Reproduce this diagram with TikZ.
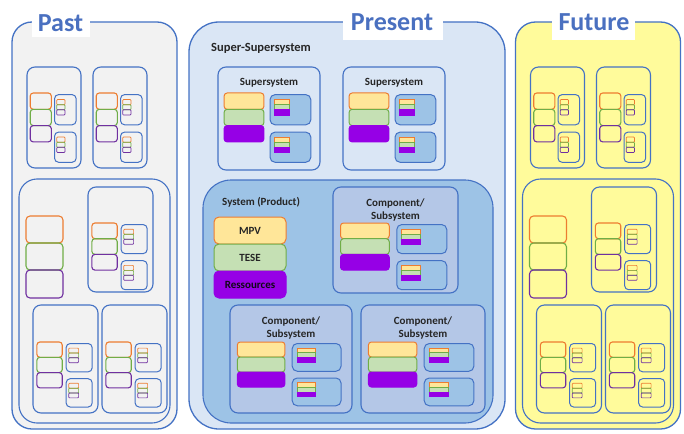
\documentclass[tikz,border=0pt]{standalone}
\usepackage{fontspec}
\setmainfont{Carlito}
\definecolor{pblue}{HTML}{4472C4}
\definecolor{ctitle}{HTML}{4A70C0}
\definecolor{ctext}{HTML}{262626}
\definecolor{cor}{HTML}{ED7D31}
\definecolor{cgr}{HTML}{70AD47}
\definecolor{cpu}{HTML}{7030A0}
\definecolor{cpuf}{HTML}{9600E6}
\definecolor{cyel}{HTML}{FFE699}
\definecolor{cgrl}{HTML}{C5E0B4}
\definecolor{cpast}{HTML}{F2F2F2}
\definecolor{cfut}{HTML}{FFFB9B}
\definecolor{cpres}{HTML}{DAE6F5}
\definecolor{csys}{HTML}{9DC3E6}
\definecolor{ccomp}{HTML}{B4C7E7}
\definecolor{csmall}{HTML}{9DC3E6}

\newcommand{\mytinyst}[5]{%
  \pgfmathsetmacro{\myTya}{#2}%
  \pgfmathsetmacro{\myTyb}{#2+#4/3}%
  \pgfmathsetmacro{\myTyc}{#2+2*#4/3}%
  \pgfmathsetmacro{\myTyd}{#2+#4}%
  \pgfmathsetmacro{\myTxb}{#1+#3}%
  \draw[#5tA] (#1,\myTya) rectangle (\myTxb,\myTyb);
  \draw[#5tB] (#1,\myTyb) rectangle (\myTxb,\myTyc);
  \draw[#5tC] (#1,\myTyc) rectangle (\myTxb,\myTyd);
}

\newcommand{\mycell}[8]{%
  \draw[cellbox,fill=#8] (#1,#2) rectangle ++(#3,#4);
  \pgfmathsetmacro{\mySxa}{#1+0.06*#3}%
  \pgfmathsetmacro{\mySxb}{#1+0.45*#3}%
  \pgfmathsetmacro{\mySya}{#2+#5}%
  \pgfmathsetmacro{\mySyb}{#2+#5+#6}%
  \pgfmathsetmacro{\mySyc}{#2+#5+2*#6}%
  \pgfmathsetmacro{\mySyd}{#2+#5+3*#6}%
  \draw[#7stA] (\mySxa,\mySya) rectangle (\mySxb,\mySyb);
  \draw[#7stB] (\mySxa,\mySyb) rectangle (\mySxb,\mySyc);
  \draw[#7stC] (\mySxa,\mySyc) rectangle (\mySxb,\mySyd);
  \pgfmathsetmacro{\myBxa}{#1+0.51*#3}%
  \pgfmathsetmacro{\myBxb}{#1+0.91*#3}%
  \pgfmathsetmacro{\myBw}{0.40*#3}%
  \pgfmathsetmacro{\myBya}{#2+#5+0.1*#6}%
  \pgfmathsetmacro{\myByb}{#2+#5+1.95*#6}%
  \pgfmathsetmacro{\myByc}{#2+#5+2.4*#6}%
  \pgfmathsetmacro{\myByd}{#2+#5+4.25*#6}%
  \draw[#7sb] (\myBxa,\myBya) rectangle (\myBxb,\myByb);
  \draw[#7sb] (\myBxa,\myByc) rectangle (\myBxb,\myByd);
  \pgfmathsetmacro{\myTx}{\myBxa+0.1*\myBw}%
  \pgfmathsetmacro{\myTw}{0.38*\myBw}%
  \pgfmathsetmacro{\myTh}{0.95*#6}%
  \pgfmathsetmacro{\myTyone}{#2+#5+0.4*#6}%
  \pgfmathsetmacro{\myTytwo}{#2+#5+2.7*#6}%
  \mytinyst{\myTx}{\myTyone}{\myTw}{\myTh}{#7}%
  \mytinyst{\myTx}{\myTytwo}{\myTw}{\myTh}{#7}%
}

\newcommand{\mysidepanel}[1]{%
  \draw[panel,fill=#1,rounded corners=20pt] (12,22) rectangle (177,429);
  \draw[cellbox,rounded corners=18pt] (19,179) rectangle (170,423);
  \draw[ostA,rounded corners=4pt] (26,216) rectangle (63,243);
  \draw[ostB,rounded corners=4pt] (26,243) rectangle (63,270);
  \draw[ostC,rounded corners=4pt] (26,270) rectangle (63,298);
  \mycell{27}{67}{54}{101}{26}{16.3}{o}{none}
  \mycell{93}{67}{54}{101}{26}{16.3}{o}{none}
  \mycell{88}{187}{65}{105}{36}{15.7}{o}{none}
  \mycell{33}{305}{65}{108}{37}{15.3}{o}{none}
  \mycell{102}{305}{65}{108}{37}{15.3}{o}{none}
}

\begin{document}
\begin{tikzpicture}[x=1pt,y=-1pt,
  panel/.style={draw=pblue,line width=1.3pt},
  cellbox/.style={draw=pblue,line width=1.1pt,rounded corners=8pt},
  ostA/.style={draw=cor,line width=1.1pt,rounded corners=3pt},
  ostB/.style={draw=cgr,line width=1.1pt,rounded corners=3pt},
  ostC/.style={draw=cpu,line width=1.1pt,rounded corners=3pt},
  fstA/.style={draw=cor,fill=cyel,line width=1pt,rounded corners=3pt},
  fstB/.style={draw=cgr,fill=cgrl,line width=1pt,rounded corners=3pt},
  fstC/.style={draw=cpuf,fill=cpuf,line width=1pt,rounded corners=3pt},
  osb/.style={draw=pblue,line width=1pt,rounded corners=4pt},
  fsb/.style={draw=pblue,fill=csmall,line width=1pt,rounded corners=5pt},
  otA/.style={draw=cor,line width=0.7pt,rounded corners=0.8pt},
  otB/.style={draw=cgr,line width=0.7pt,rounded corners=0.8pt},
  otC/.style={draw=cpu,line width=0.7pt,rounded corners=0.8pt},
  ftA/.style={draw=cor,fill=cyel,line width=0.7pt},
  ftB/.style={draw=cgr,fill=cgrl,line width=0.7pt},
  ftC/.style={draw=cpuf,fill=cpuf,line width=0.7pt},
  title/.style={font=\fontsize{26}{28}\selectfont\bfseries,text=ctitle,inner sep=0pt},
  lbl/.style={font=\fontsize{11}{13}\selectfont\bfseries,text=ctext,inner sep=0pt},
]
\useasboundingbox (0,0) rectangle (684,433);
\fill[white] (0,0) rectangle (684,433);

% ---------- Past ----------
\mysidepanel{cpast}
\fill[white] (32,0) rectangle (90,37);
\node[title,anchor=base] (tpast) at (60.5,32) {Past};

% ---------- Future ----------
\begin{scope}[xshift=503.5pt]
\mysidepanel{cfut}
\end{scope}
\fill[white] (552,0) rectangle (635,40);
\node[title,anchor=base] (tfut) at (594,31) {Future};

% ---------- Present ----------
\draw[panel,fill=cpres,rounded corners=30pt] (189,22) rectangle (505,429);
\fill[white] (343,0) rectangle (443,40);
\node[title,anchor=base] (tpres) at (392,31) {Present};
\node[anchor=base west,font=\fontsize{12.5}{14}\selectfont\bfseries,text=ctext,inner sep=0pt] (ssl) at (211,52) {Super-Supersystem};

\mycell{218}{67}{102}{103}{26}{16.3}{f}{cpres}
\node[lbl,anchor=base] (ss1) at (269,85) {Supersystem};
\mycell{343}{67}{102}{103}{26}{16.3}{f}{cpres}
\node[lbl,anchor=base] (ss2) at (394,85) {Supersystem};

\draw[cellbox,fill=csys,rounded corners=28pt] (203,180) rectangle (493,423);
\node[lbl,anchor=base west] (sysl) at (222,205) {System (Product)};
\draw[fstA,rounded corners=5pt] (214,217) rectangle (286,244) node[midway,lbl] (mpv) {MPV};
\draw[fstB,rounded corners=5pt] (214,244) rectangle (286,271) node[midway,lbl] (tese) {TESE};
\draw[fstC,rounded corners=5pt] (214,271) rectangle (286,298) node[midway,lbl,text=black!85!cpu] (res) {Ressources};

\mycell{333}{187}{125}{106}{36}{15.7}{f}{ccomp}
\node[lbl,anchor=base] (c1a) at (395.5,206) {Component/};
\node[lbl,anchor=base] (c1b) at (395.5,219) {Subsystem};

\mycell{230}{305}{122}{108}{37}{15}{f}{ccomp}
\node[lbl,anchor=base] (c2a) at (291,324) {Component/};
\node[lbl,anchor=base] (c2b) at (291,337) {Subsystem};

\mycell{361}{305}{124}{108}{37}{15}{f}{ccomp}
\node[lbl,anchor=base] (c3a) at (423,324) {Component/};
\node[lbl,anchor=base] (c3b) at (423,337) {Subsystem};
\end{tikzpicture}
\end{document}
